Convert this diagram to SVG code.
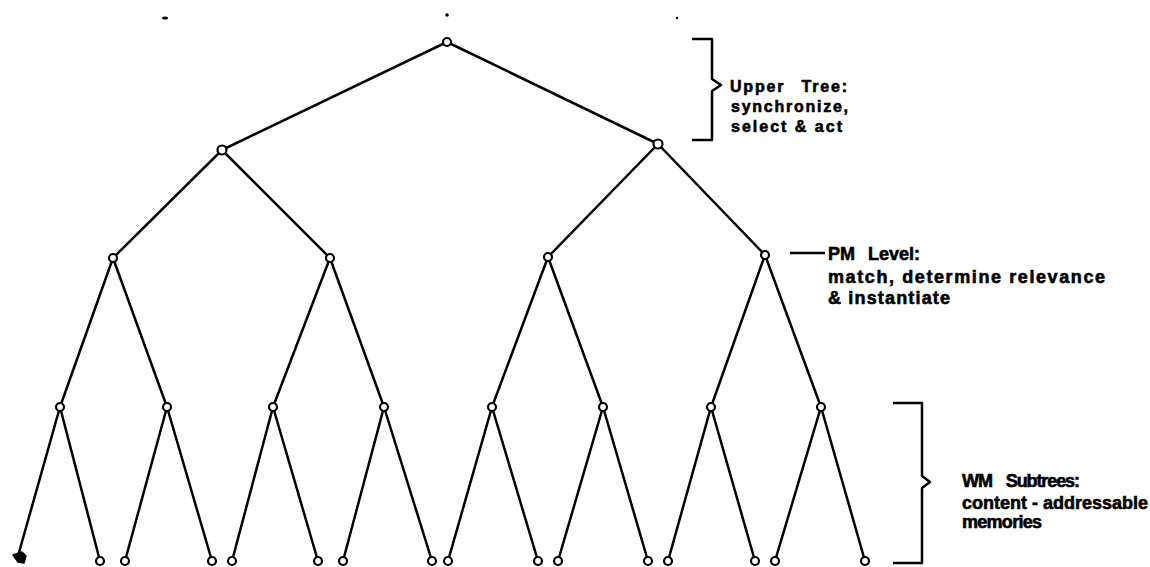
<svg xmlns="http://www.w3.org/2000/svg" width="1150" height="567" viewBox="0 0 1150 567">
<style>
.e{stroke:#000;stroke-width:2.5;fill:none;stroke-linecap:round}
.n{fill:#fff;stroke:#000;stroke-width:2.2}
.b{stroke:#000;stroke-width:2.5;fill:none;stroke-linejoin:round}
.t{font-family:"Liberation Sans",Arial,sans-serif;font-weight:bold;font-size:16px;fill:#000;stroke:#000;stroke-width:0.6}
.pm{font-size:18px}
.wm{font-size:18px}
</style>
<rect width="1150" height="567" fill="#fff"/>
<g id="specks" fill="#000">
<ellipse cx="165" cy="18" rx="3" ry="1.5"/>
<circle cx="447" cy="15" r="1.8"/>
<circle cx="677" cy="18" r="1.2"/>
</g>
<g id="connectors">
<line class="e" x1="447" y1="42" x2="222" y2="150"/>
<line class="e" x1="447" y1="42" x2="658" y2="144" stroke-width="3"/>
<line class="e" x1="222" y1="150" x2="113" y2="258"/>
<line class="e" x1="222" y1="150" x2="330" y2="258"/>
<line class="e" x1="658" y1="144" x2="548" y2="257"/>
<line class="e" x1="658" y1="144" x2="765" y2="255"/>
<line class="e" x1="113" y1="258" x2="60" y2="407"/>
<line class="e" x1="113" y1="258" x2="167" y2="407"/>
<line class="e" x1="330" y1="258" x2="273" y2="407"/>
<line class="e" x1="330" y1="258" x2="384" y2="407"/>
<line class="e" x1="548" y1="257" x2="492" y2="407"/>
<line class="e" x1="548" y1="257" x2="603" y2="407"/>
<line class="e" x1="765" y1="255" x2="711" y2="407"/>
<line class="e" x1="765" y1="255" x2="821" y2="407"/>
<line class="e" x1="60" y1="407" x2="18" y2="556"/>
<line class="e" x1="60" y1="407" x2="100" y2="561"/>
<line class="e" x1="167" y1="407" x2="125" y2="561"/>
<line class="e" x1="167" y1="407" x2="212" y2="561"/>
<line class="e" x1="273" y1="407" x2="232" y2="561"/>
<line class="e" x1="273" y1="407" x2="318" y2="561"/>
<line class="e" x1="384" y1="407" x2="343" y2="561"/>
<line class="e" x1="384" y1="407" x2="432" y2="561"/>
<line class="e" x1="492" y1="407" x2="448" y2="561"/>
<line class="e" x1="492" y1="407" x2="538" y2="561"/>
<line class="e" x1="603" y1="407" x2="558" y2="561"/>
<line class="e" x1="603" y1="407" x2="648" y2="561"/>
<line class="e" x1="711" y1="407" x2="668" y2="561"/>
<line class="e" x1="711" y1="407" x2="755" y2="561"/>
<line class="e" x1="821" y1="407" x2="775" y2="561"/>
<line class="e" x1="821" y1="407" x2="865" y2="561"/>
</g>
<g id="root"><circle class="n" cx="447" cy="42" r="4"/></g>
<g id="n1a"><circle class="n" cx="222" cy="150" r="4.5"/></g>
<g id="n1b"><circle class="n" cx="658" cy="144" r="4.5"/></g>
<g id="n2a"><circle class="n" cx="113" cy="258" r="4"/></g>
<g id="n2b"><circle class="n" cx="330" cy="258" r="4"/></g>
<g id="n2c"><circle class="n" cx="548" cy="257" r="4"/></g>
<g id="n2d"><circle class="n" cx="765" cy="255" r="4"/></g>
<g id="n3a"><circle class="n" cx="60" cy="407" r="4"/></g>
<g id="n3b"><circle class="n" cx="167" cy="407" r="4"/></g>
<g id="n3c"><circle class="n" cx="273" cy="407" r="4"/></g>
<g id="n3d"><circle class="n" cx="384" cy="407" r="4"/></g>
<g id="n3e"><circle class="n" cx="492" cy="407" r="4"/></g>
<g id="n3f"><circle class="n" cx="603" cy="407" r="4"/></g>
<g id="n3g"><circle class="n" cx="711" cy="407" r="4"/></g>
<g id="n3h"><circle class="n" cx="821" cy="407" r="4"/></g>
<g id="leaf1"><path d="M13 555 L22 552 L26 556 L24 563 L18 562 Z" fill="#000" stroke="#000" stroke-width="1.5" stroke-linejoin="round"/></g>
<g id="leaf2"><circle class="n" cx="100" cy="561" r="4"/></g>
<g id="leaf3"><circle class="n" cx="125" cy="561" r="4"/></g>
<g id="leaf4"><circle class="n" cx="212" cy="561" r="4"/></g>
<g id="leaf5"><circle class="n" cx="232" cy="561" r="4"/></g>
<g id="leaf6"><circle class="n" cx="318" cy="561" r="4"/></g>
<g id="leaf7"><circle class="n" cx="343" cy="561" r="4"/></g>
<g id="leaf8"><circle class="n" cx="432" cy="561" r="4"/></g>
<g id="leaf9"><circle class="n" cx="448" cy="561" r="4"/></g>
<g id="leaf10"><circle class="n" cx="538" cy="561" r="4"/></g>
<g id="leaf11"><circle class="n" cx="558" cy="561" r="4"/></g>
<g id="leaf12"><circle class="n" cx="648" cy="561" r="4"/></g>
<g id="leaf13"><circle class="n" cx="668" cy="561" r="4"/></g>
<g id="leaf14"><circle class="n" cx="755" cy="561" r="4"/></g>
<g id="leaf15"><circle class="n" cx="775" cy="561" r="4"/></g>
<g id="leaf16"><circle class="n" cx="865" cy="561" r="4"/></g>
<g id="upper-label">
<path class="b" d="M692 39 H712 V79 L721 85 L712 91 V140 H692"/>
<text class="t" x="730" y="92" textLength="117" lengthAdjust="spacing" word-spacing="10">Upper Tree:</text>
<text class="t" x="731" y="112" textLength="117" lengthAdjust="spacing">synchronize,</text>
<text class="t" x="731" y="132" textLength="111" lengthAdjust="spacing">select &amp; act</text>
</g>
<g id="pm-label">
<line class="b" x1="790" y1="253" x2="825" y2="253"/>
<text class="t pm" x="828" y="260" textLength="92" lengthAdjust="spacing" word-spacing="8">PM Level:</text>
<text class="t pm" x="828" y="283" textLength="277" lengthAdjust="spacing">match, determine relevance</text>
<text class="t pm" x="828" y="304" textLength="122" lengthAdjust="spacing">&amp; instantiate</text>
</g>
<g id="wm-label">
<path class="b" d="M893 403 H922 V476 L930 482 L922 488 V563 H893"/>
<text class="t wm" x="962" y="487" textLength="118" lengthAdjust="spacing" word-spacing="10">WM Subtrees:</text>
<text class="t wm" x="962" y="509" textLength="186" lengthAdjust="spacing">content - addressable</text>
<text class="t wm" x="962" y="528" textLength="80" lengthAdjust="spacing">memories</text>
</g>
</svg>
